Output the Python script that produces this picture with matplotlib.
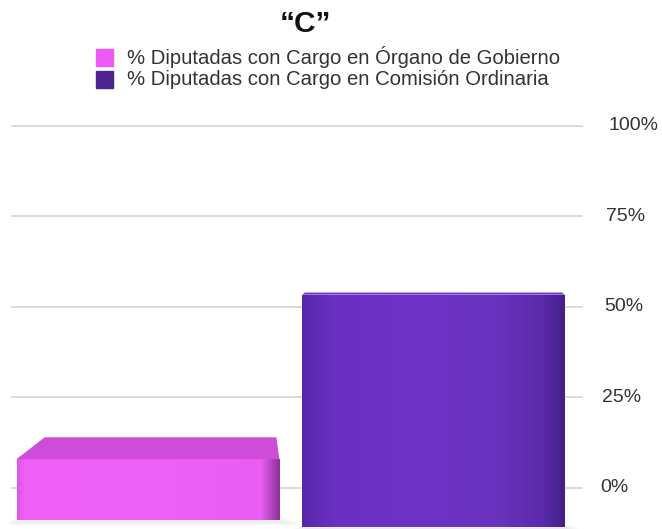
import matplotlib
matplotlib.use("Agg")
import matplotlib.pyplot as plt
import numpy as np
from matplotlib.colors import LinearSegmentedColormap
from matplotlib.patches import Rectangle, Polygon

plt.rcParams['font.family'] = ['Liberation Sans', 'DejaVu Sans']

title = "\u201cC\u201d"
series = ["% Diputadas con Cargo en Órgano de Gobierno",
          "% Diputadas con Cargo en Comisión Ordinaria"]
values = [14, 54]
ticks = [0, 25, 50, 75, 100]
tick_labels = ["0%", "25%", "50%", "75%", "100%"]
legend_colors = ["#EF5AF5", "#4E2490"]

fig = plt.figure(figsize=(6.62, 5.29), dpi=100)
ax = fig.add_axes([10/662, 0, 580/662, 419/529])
XL = (-0.483, 1.548)
YL = (-11.33, 104.42)
ax.set_xlim(*XL)
ax.set_ylim(*YL)
ax.axis("off")

px_per_x = 580 / (XL[1] - XL[0])
for t, lab in zip(ticks, tick_labels):
    ax.axhline(t, xmin=0.003, xmax=0.987, color="#d8d8d8", lw=1.3, zorder=0)
    xlab = XL[0] + (590 + 0.08 * t) / px_per_x
    ax.text(xlab, t, lab, ha="left", va="center", fontsize=14, color="#333333",
            clip_on=False)

eye = 57
k = 0.14
x = [0, 1]
width = 0.92
grad_pos = [[0.0, 0.03, 0.5, 0.93, 0.96, 1.0],
            [0.0, 0.12, 0.45, 0.75, 0.92, 1.0]]
grads = [["#E055EA", "#EE60F6", "#EF62F7", "#EA5DF3", "#C04CCC", "#8E3098"],
         ["#5626AA", "#6B30C2", "#6E33C6", "#6932BE", "#5A2AAA", "#43208A"]]
tops = ["#CF4CDA", "#7040C8"]
for xi, v, gp, g, tc in zip(x, values, grad_pos, grads, tops):
    base = -8.8 - 2.0 * xi
    tf = max(k * (eye - v), 0.6)
    for s in range(6):
        ax.bar(xi + 0.01, 1.2, bottom=base - 0.4 - 0.25 * s, width=width + 0.02 * s,
               color="#000000", alpha=0.015, zorder=1, lw=0)
    bars = ax.bar(xi, v - tf - base, bottom=base, width=width, color=g[1], zorder=2)
    patch = bars[0]
    cmap = LinearSegmentedColormap.from_list("g", list(zip(gp, g)))
    grad = np.linspace(0, 1, 512).reshape(1, -1)
    im = ax.imshow(grad, cmap=cmap, aspect="auto", zorder=3,
                   extent=[xi - width/2, xi + width/2, base, v - tf])
    im.set_clip_path(patch)
    inset = 0.09 * tf / 5.5
    x0, x1 = xi - width/2, xi + width/2
    top = Polygon([(x0, v - tf), (x0 + inset, v), (x1 - 0.01, v), (x1, v - tf)],
                  closed=True, color=tc, zorder=3, lw=0)
    ax.add_patch(top)

ax.set_xlim(*XL)
ax.set_ylim(*YL)

fig.text(306/662, 1 - 24/529, title, ha="center", va="center", fontsize=21.5,
         fontweight="bold", color="#111111")
for i, (s, c) in enumerate(zip(series, legend_colors)):
    yc = 1 - (57 + 22.5 * i) / 529
    fig.patches.append(Rectangle((96/662, yc - 8.5/529), 17/662, 17/529,
                                 transform=fig.transFigure, color=c))
    fig.text(127/662, yc, s, ha="left", va="center", fontsize=14.6, color="#333333")

fig.savefig("out.png", dpi=100)
